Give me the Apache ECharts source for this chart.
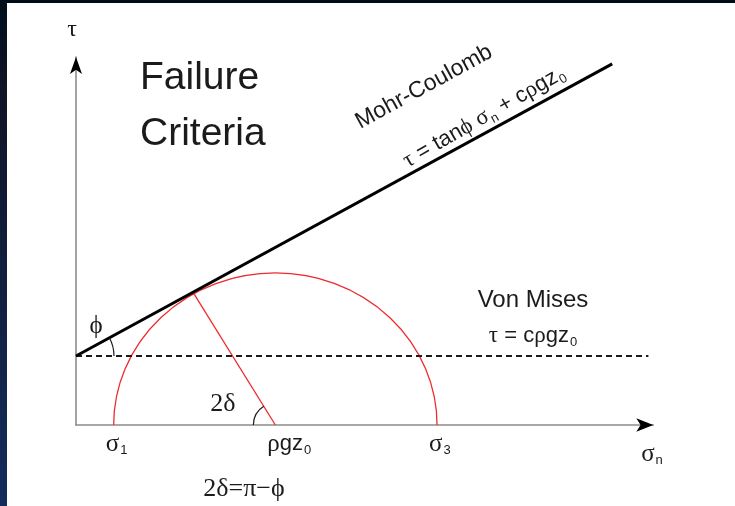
<!DOCTYPE html>
<html>
<head>
<meta charset="utf-8">
<script src="https://cdn.jsdelivr.net/npm/echarts@6/dist/echarts.min.js"></script>
<style>
  html, body { margin: 0; padding: 0; background: #fff; }
  #chart { width: 735px; height: 506px; }
</style>
</head>
<body>
<div id="chart"></div>
<script>
// Mohr circle: principal stresses on the σn axis and the mean stress at its centre
const principalStresses = [0.77, 7.38];   // σ1, σ3
const meanStress = 4.075;                 // ρgz0
// Mohr-Coulomb envelope, end points [σn, τ]
const coulombSigma = [0, 10.96];
const coulombTau = [1.5, 7.85];
// Von Mises limit τ = cρgz0
const misesSigma = [0, 11.7];
const misesTau = [1.5, 1.5];
// Point where the envelope touches the circle
const contactPoint = [2.39, 2.89];
// Labels under the σn axis
const axisMarkValues = [principalStresses[0], meanStress, principalStresses[1]];
const axisMarkLabels = ['{g|σ}{sub|1}', '{g|ρ}{t|gz}{sub|0}', '{g|σ}{sub|3}'];

const X_MAX = 11.8;
const Y_MAX = 8;

const SERIF = '"Liberation Serif","DejaVu Serif",serif';
const SANS = '"Liberation Sans",Arial,sans-serif';
const INK = '#1b1b1b';
const RED = '#ee2b2e';

const rich = {
  g:   { fontFamily: SERIF, fontSize: 25, lineHeight: 26 },
  gs:  { fontFamily: SERIF, fontSize: 23, lineHeight: 26 },
  t:   { fontFamily: SANS, fontSize: 22, lineHeight: 26 },
  sub: { fontFamily: SANS, fontSize: 13, lineHeight: 13, padding: [17, 0, 0, 1], verticalAlign: 'bottom' }
};

function label(text, x, y, extra) {
  return Object.assign({
    type: 'text', x: x, y: y, z: 50,
    style: Object.assign({ text: text, fill: INK, rich: rich, align: 'center', verticalAlign: 'middle' },
      (extra && extra.style) || {})
  }, extra ? { rotation: extra.rotation || 0 } : {});
}

const chart = echarts.init(document.getElementById('chart'), null, { renderer: 'canvas' });

const hiddenParts = {
  axisTick: { show: false }, axisLabel: { show: false }, splitLine: { show: false }
};

const option = {
  animation: false,
  backgroundColor: '#ffffff',
  grid: { left: 76, right: 81.7, top: 57, bottom: 81, containLabel: false },
  xAxis: [
    Object.assign({ type: 'value', min: 0, max: X_MAX, position: 'bottom',
      axisLine: { onZero: false, lineStyle: { color: '#8c8c8c', width: 1.6 } } }, hiddenParts),
    Object.assign({ type: 'value', min: 0, max: X_MAX, position: 'bottom',
      axisLine: { onZero: false, symbol: ['none', 'arrow'], symbolSize: [10, 17],
        lineStyle: { color: '#000', width: 0 } } }, hiddenParts)
  ],
  yAxis: [
    Object.assign({ type: 'value', min: 0, max: Y_MAX, position: 'left',
      axisLine: { onZero: false, lineStyle: { color: '#8c8c8c', width: 1.6 } } }, hiddenParts),
    Object.assign({ type: 'value', min: 0, max: Y_MAX, position: 'left',
      axisLine: { onZero: false, symbol: ['none', 'arrow'], symbolSize: [9, 17],
        lineStyle: { color: '#000', width: 0 } } }, hiddenParts)
  ],
  graphic: [
    // dark frame along the top and left edges
    { type: 'rect', left: 0, top: 0, z: 100, shape: { width: 735, height: 3 }, style: { fill: '#000c17' } },
    { type: 'rect', left: 0, top: 0, z: 100, shape: { width: 7, height: 506 },
      style: { fill: new echarts.graphic.LinearGradient(0, 0, 0, 1, [
        { offset: 0, color: '#000f1b' }, { offset: 0.17, color: '#0f1426' }, { offset: 1, color: '#142c5c' }]) } },
    label('τ', 72, 30, { style: { font: '24px ' + SERIF } }),
    label('{g|σ}{sub|n}', 652, 454),
    label('ϕ', 96, 326, { style: { font: '25px ' + SERIF } }),
    label('2δ', 223, 404, { style: { font: '26px ' + SERIF } }),
    label('2δ=π−ϕ', 244, 489, { style: { font: '26px ' + SERIF } }),
    label('Failure', 140, 78, { style: { font: '39px ' + SANS, align: 'left' } }),
    label('Criteria', 140, 134, { style: { font: '39px ' + SANS, align: 'left' } }),
    label('Mohr-Coulomb', 424, 87, { rotation: 0.5, style: { font: '23px ' + SANS } }),
    label('{gs|τ}{t| = tan}{gs|ϕ}{t| }{gs|σ}{sub|n}{t| + c}{gs|ρ}{t|gz}{sub|0}', 484, 117,
      { rotation: 0.52, style: { rich: Object.assign({}, rich, {
        t: { fontFamily: SANS, fontSize: 22, lineHeight: 26 },
        gs: { fontFamily: SERIF, fontSize: 23, lineHeight: 26 } }) } }),
    label('Von Mises', 533, 300, { style: { font: '24px ' + SANS } }),
    label('{gs|τ}{t| = c}{gs|ρ}{t|gz}{sub|0}', 533, 336)
  ],
  series: [
    {
      // Mohr circle (upper half)
      type: 'custom', xAxisIndex: 0, yAxisIndex: 0, z: 3, silent: true,
      data: [principalStresses],
      renderItem: function (params, api) {
        const s1 = api.value(0), s3 = api.value(1);
        const a = api.coord([s1, 0]), b = api.coord([s3, 0]);
        const rx = (b[0] - a[0]) / 2;
        const ry = api.size([0, (s3 - s1) / 2])[1];
        return {
          type: 'path',
          shape: { pathData: 'M' + a[0] + ' ' + a[1] + ' A' + rx + ' ' + ry + ' 0 0 1 ' + b[0] + ' ' + b[1] },
          style: { fill: 'none', stroke: RED, lineWidth: 1.3 }
        };
      }
    },
    {
      // radius to the contact point
      type: 'line', xAxisIndex: 0, yAxisIndex: 0, z: 3, symbol: 'none', silent: true,
      data: [[meanStress, 0], contactPoint],
      lineStyle: { color: RED, width: 1.3 }
    },
    {
      // Von Mises limit
      type: 'line', xAxisIndex: 0, yAxisIndex: 0, z: 4, symbol: 'none', silent: true,
      data: misesSigma.map((s, i) => [s, misesTau[i]]),
      lineStyle: { color: INK, width: 2.2, type: [6, 4] }
    },
    {
      // Mohr-Coulomb envelope
      type: 'line', xAxisIndex: 0, yAxisIndex: 0, z: 5, symbol: 'none', silent: true,
      data: coulombSigma.map((s, i) => [s, coulombTau[i]]),
      lineStyle: { color: '#000', width: 3 }
    },
    {
      // angle marks ϕ and 2δ
      type: 'custom', xAxisIndex: 0, yAxisIndex: 0, z: 6, silent: true,
      data: [[0]],
      renderItem: function (params, api) {
        const o = api.coord([coulombSigma[0], coulombTau[0]]);
        const e = api.coord([coulombSigma[1], coulombTau[1]]);
        const envAngle = Math.atan2(e[1] - o[1], e[0] - o[0]);
        const c = api.coord([meanStress, 0]);
        const p = api.coord(contactPoint);
        const radAngle = Math.atan2(p[1] - c[1], p[0] - c[0]) + 2 * Math.PI;
        return {
          type: 'group',
          children: [
            { type: 'arc', shape: { cx: o[0], cy: o[1], r: 38, startAngle: envAngle, endAngle: 0, clockwise: true },
              style: { fill: 'none', stroke: INK, lineWidth: 1.2 } },
            { type: 'arc', shape: { cx: c[0], cy: c[1], r: 22, startAngle: Math.PI, endAngle: radAngle, clockwise: true },
              style: { fill: 'none', stroke: INK, lineWidth: 1.2 } }
          ]
        };
      }
    },
    {
      // labels under the σn axis
      type: 'custom', xAxisIndex: 0, yAxisIndex: 0, z: 6, silent: true,
      data: axisMarkValues.map((v, i) => [v, 0, i]),
      renderItem: function (params, api) {
        const pt = api.coord([api.value(0), api.value(1)]);
        return {
          type: 'text', x: pt[0] - 8, y: pt[1] + 6,
          style: { text: axisMarkLabels[api.value(2)], rich: rich, fill: INK, align: 'left', verticalAlign: 'top' }
        };
      }
    }
  ]
};

chart.setOption(option);
</script>
</body>
</html>
